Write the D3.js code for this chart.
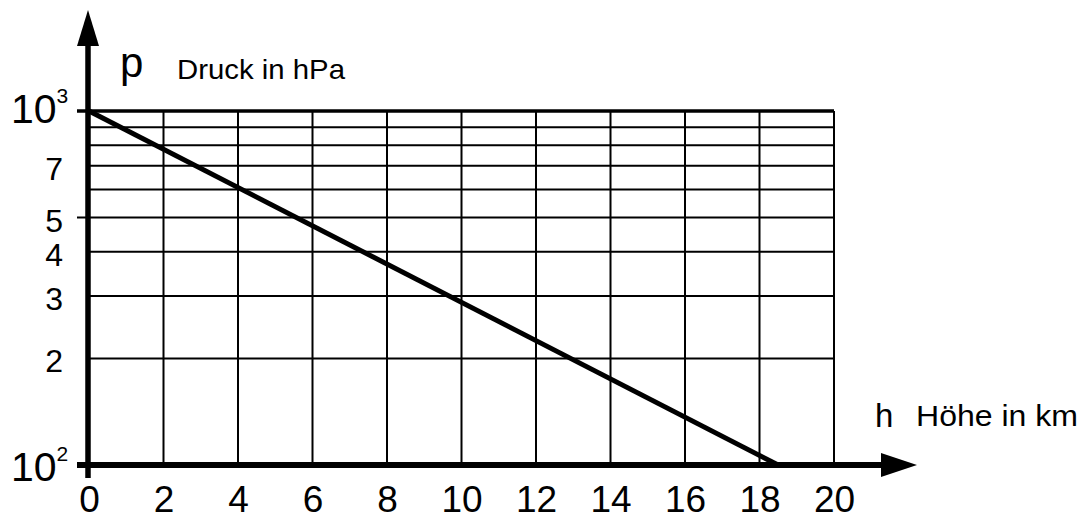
<!DOCTYPE html>
<html>
<head>
<meta charset="utf-8">
<script src="https://cdn.jsdelivr.net/npm/d3@7"></script>
<style>
  html, body { margin: 0; padding: 0; background: #fff; }
  svg { display: block; }
  text { font-family: "Liberation Sans", Arial, sans-serif; fill: #000; }
</style>
</head>
<body>
<svg id="chart" width="1081" height="519"></svg>
<script>
// Barometric pressure vs. altitude (log pressure axis)
const heightTicks = [0, 2, 4, 6, 8, 10, 12, 14, 16, 18, 20];
const pressureGrid = [100, 200, 300, 400, 500, 600, 700, 800, 900, 1000];
const pressureLabelValues = [200, 300, 400, 500, 700];
const pressureLabelText = ["2", "3", "4", "5", "7"];
const decadeValues = [100, 1000];
const decadeExponents = ["2", "3"];
const curveHeight = [0, 18.5];       // km
const curvePressure = [1000, 100];   // hPa

const svg = d3.select("#chart");

const x = d3.scaleLinear().domain([0, 20]).range([89, 834]);
const y = d3.scaleLog().domain([100, 1000]).range([465, 111]);

// grid: vertical lines
svg.append("g").selectAll("line")
  .data(heightTicks.filter(d => d > 0))
  .join("line")
  .attr("x1", d => x(d)).attr("x2", d => x(d))
  .attr("y1", y(1000)).attr("y2", y(100))
  .attr("stroke", "#000").attr("stroke-width", 2);

// grid: horizontal lines
svg.append("g").selectAll("line")
  .data(pressureGrid.filter(d => d > 100))
  .join("line")
  .attr("x1", d => (d === 1000 || d === 500) ? 77 : x(0))
  .attr("x2", x(20))
  .attr("y1", d => y(d)).attr("y2", d => y(d))
  .attr("stroke", "#000")
  .attr("stroke-width", d => d === 1000 ? 3.5 : 2);

// pressure curve
const line = d3.line().x(d => x(d[0])).y(d => y(d[1]));
svg.append("path")
  .datum(curveHeight.map((h, i) => [h, curvePressure[i]]))
  .attr("d", line)
  .attr("fill", "none")
  .attr("stroke", "#000")
  .attr("stroke-width", 5)
  .attr("stroke-linecap", "butt");

// axes with arrows
svg.append("line")
  .attr("x1", x(0) - 1).attr("x2", x(0) - 1)
  .attr("y1", 478).attr("y2", 44)
  .attr("stroke", "#000").attr("stroke-width", 5.5);
svg.append("path")
  .attr("d", `M${x(0) - 1},10 L${x(0) - 12},46 L${x(0) + 10},46 Z`)
  .attr("fill", "#000");

svg.append("line")
  .attr("x1", 77).attr("x2", 884)
  .attr("y1", y(100)).attr("y2", y(100))
  .attr("stroke", "#000").attr("stroke-width", 6);
svg.append("path")
  .attr("d", `M917,${y(100)} L881,${y(100) - 12} L881,${y(100) + 12} Z`)
  .attr("fill", "#000");

// x tick labels via d3 axis
const xAxis = d3.axisBottom(x).tickValues(heightTicks).tickSize(0).tickPadding(0).tickFormat(d3.format("d"));
const gx = svg.append("g").attr("transform", `translate(0,${y(100)})`).call(xAxis);
gx.select(".domain").remove();
gx.selectAll("text")
  .attr("y", 47).attr("dy", null)
  .style("font-size", "37px")
  .style("font-family", "'Liberation Sans', Arial, sans-serif")
  .attr("fill", "#000");

// y tick labels via d3 axis
const yAxis = d3.axisLeft(y).tickValues(pressureLabelValues).tickSize(0).tickPadding(0)
  .tickFormat(d => pressureLabelText[pressureLabelValues.indexOf(d)]);
const gy = svg.append("g").attr("transform", "translate(63,0)").call(yAxis);
gy.select(".domain").remove();
gy.selectAll("text")
  .attr("x", 0).attr("dy", "0.42em")
  .style("font-size", "32px")
  .style("font-family", "'Liberation Sans', Arial, sans-serif")
  .attr("fill", "#000");

// decade labels 10^2, 10^3
const dec = svg.append("g").selectAll("text")
  .data(decadeValues)
  .join("text")
  .attr("x", 11)
  .attr("y", d => y(d) + (d === 1000 ? 12 : 16))
  .style("font-size", "41px");
dec.append("tspan").text("10");
dec.append("tspan")
  .attr("dy", -20)
  .style("font-size", "21px")
  .text((d, i) => decadeExponents[i]);

// axis titles
svg.append("text").attr("x", 120).attr("y", 77).style("font-size", "42px").text("p");
svg.append("text").attr("x", 177).attr("y", 79).style("font-size", "28px")
  .attr("textLength", 168).attr("lengthAdjust", "spacingAndGlyphs").text("Druck in hPa");
svg.append("text").attr("x", 875).attr("y", 427).style("font-size", "33px").text("h");
svg.append("text").attr("x", 916).attr("y", 426).style("font-size", "29px")
  .attr("textLength", 162).attr("lengthAdjust", "spacingAndGlyphs").text("Höhe in km");
</script>
</body>
</html>
